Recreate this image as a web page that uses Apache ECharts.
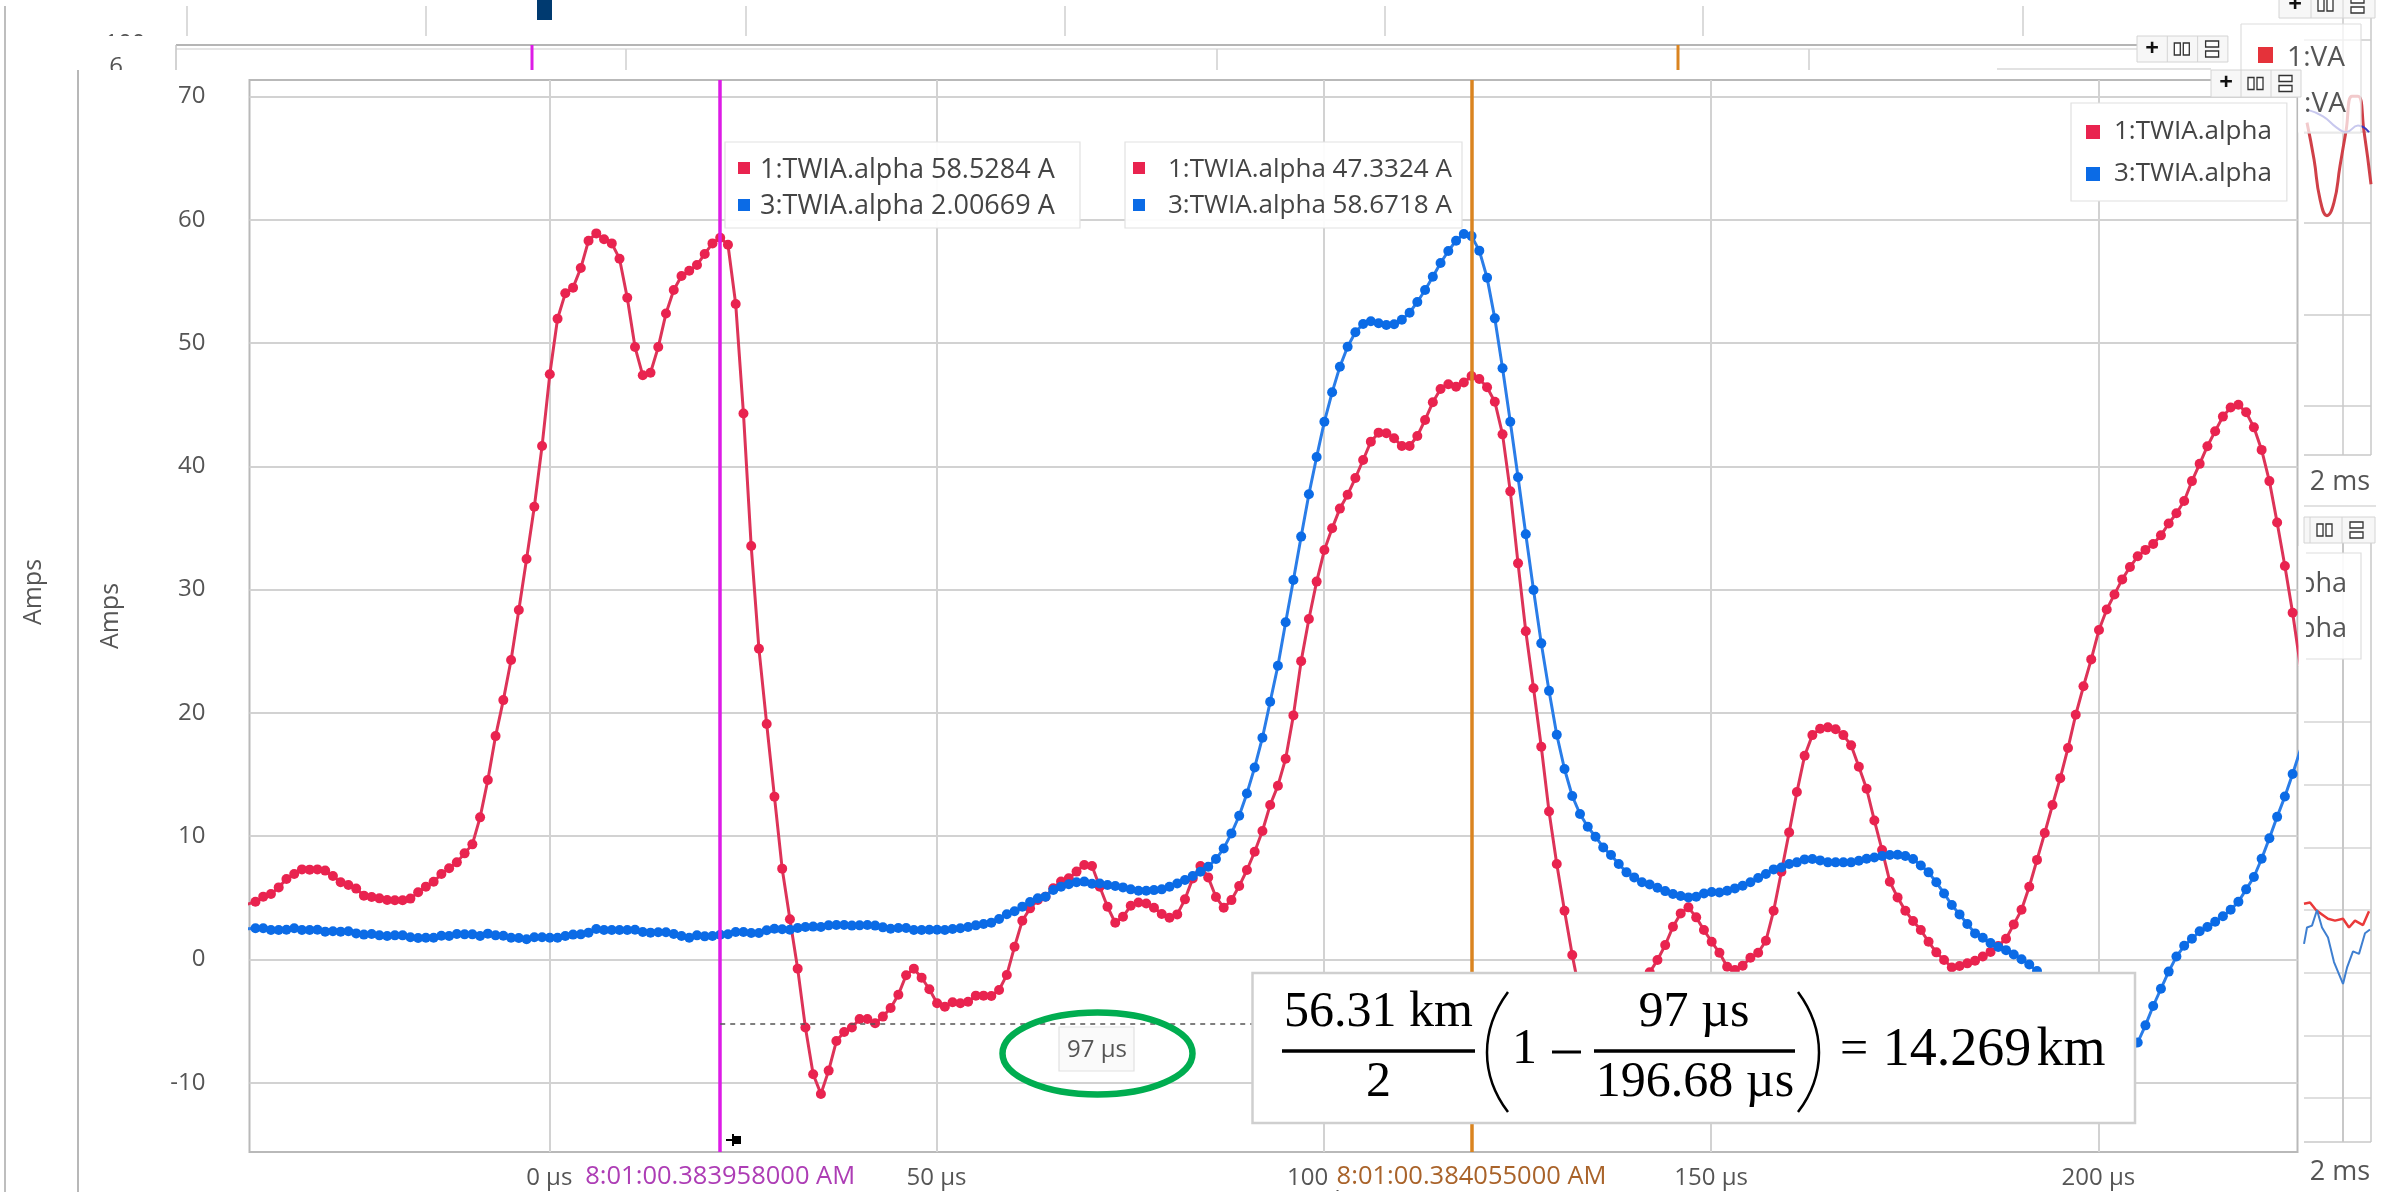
<!DOCTYPE html>
<html>
<head>
<meta charset="utf-8">
<style>html,body{margin:0;padding:0;background:#fff}#c{width:2394px;height:1192px}</style>
<script src="https://cdn.jsdelivr.net/npm/echarts@6/dist/echarts.min.js"></script>
</head>
<body>
<div id="c"></div>
<script>
// Sampled once per microsecond, first sample just left of the plot
const firstSampleUs = -38.93;
const seriesNames = ['1:TWIA.alpha', '3:TWIA.alpha'];
const xTicks = [0, 50, 100, 150, 200];
const yTicks = [-10, 0, 10, 20, 30, 40, 50, 60, 70];
const cursorA = 22.07;
const cursorB = 119.07;
const cursorLevel = -5.23;
const cursorALabel = '8:01:00.383958000 AM';
const cursorBLabel = '8:01:00.384055000 AM';

const red = [
4.5,4.69,5.10,5.31,5.85,6.53,6.94,7.31,7.29,7.31,
7.21,6.77,6.26,6.04,5.75,5.18,5.07,4.96,4.83,4.80,
4.80,4.94,5.45,5.91,6.31,6.94,7.40,7.88,8.61,9.34,
11.53,14.56,18.12,21.04,24.29,28.34,32.48,36.72,41.64,47.46,
51.97,54.03,54.49,56.08,58.30,58.89,58.41,58.08,56.84,53.67,
49.67,47.38,47.59,49.67,52.40,54.30,55.43,55.86,56.32,57.22,
58.08,58.53,57.97,53.16,44.29,33.53,25.2,19.10,13.21,7.37,
3.26,-0.74,-5.52,-9.31,-10.9,-9.01,-6.61,-5.88,-5.52,-4.82,
-4.82,-5.17,-4.63,-3.93,-2.85,-1.28,-0.74,-1.47,-2.41,-3.55,
-3.82,-3.47,-3.55,-3.42,-2.93,-2.93,-2.96,-2.47,-1.25,1.04,
3.15,4.15,4.83,5.10,5.78,6.32,6.59,7.13,7.67,7.59,
5.9,4.28,2.98,3.47,4.36,4.63,4.55,4.20,3.69,3.39,
3.66,4.88,6.58,7.58,6.66,5.07,4.20,4.82,5.96,7.26,
8.74,10.42,12.53,14.10,16.29,19.80,24.2,27.62,30.65,33.21,
34.97,36.57,37.70,39.05,40.51,42.0,42.73,42.68,42.27,41.65,
41.65,42.46,43.76,45.19,46.27,46.65,46.46,46.79,47.33,47.08,
46.41,45.24,42.59,37.97,32.13,26.62,22.0,17.26,12.01,7.74,
3.96,0.36,-2.8,-5.8,-8.0,-9.5,-10.2,-10.0,-8.5,-6.3,
-3.6,-1.04,-0.04,1.17,2.66,3.74,4.23,3.42,2.39,1.44,
0.55,-0.58,-0.85,-0.50,0.15,0.55,1.52,3.96,7.12,10.31,
13.58,16.53,18.2,18.72,18.83,18.67,18.2,17.37,15.64,13.85,
11.28,8.88,6.31,5.04,3.96,3.12,2.39,1.44,0.58,-0.04,
-0.64,-0.53,-0.31,-0.10,0.25,0.62,1.1,1.68,2.85,4.03,
5.90,8.08,10.26,12.53,14.71,17.15,19.85,22.16,24.34,26.73,
28.39,29.61,30.83,31.83,32.70,33.22,33.70,34.40,35.36,36.19,
37.19,38.80,40.20,41.63,42.85,44.03,44.77,44.99,44.38,43.16,
41.33,38.80,35.45,31.92,28.13,23.8
];
const blue = [
2.5,2.53,2.53,2.39,2.39,2.42,2.53,2.39,2.39,2.42,
2.26,2.29,2.26,2.29,2.12,2.02,2.07,1.96,1.91,1.96,
1.96,1.80,1.75,1.77,1.77,1.93,1.91,2.07,2.04,2.04,
1.91,2.10,1.96,1.93,1.77,1.75,1.64,1.80,1.80,1.77,
1.77,1.91,2.02,2.04,2.18,2.48,2.39,2.39,2.39,2.39,
2.42,2.23,2.18,2.21,2.21,2.07,1.91,1.77,1.96,1.88,
1.91,2.01,2.05,2.23,2.23,2.15,2.15,2.37,2.50,2.45,
2.42,2.56,2.64,2.67,2.64,2.77,2.80,2.80,2.75,2.77,
2.80,2.75,2.61,2.50,2.56,2.56,2.40,2.40,2.42,2.42,
2.40,2.48,2.53,2.64,2.77,2.88,2.99,3.29,3.67,3.91,
4.29,4.67,4.96,5.10,5.64,5.91,6.10,6.26,6.32,6.15,
6.17,6.04,5.96,5.85,5.69,5.58,5.58,5.63,5.69,5.90,
6.17,6.45,6.77,7.12,7.53,8.15,9.01,10.23,11.66,13.47,
15.58,17.99,20.9,23.83,27.35,30.78,34.30,37.73,40.76,43.62,
46.0,48.08,49.70,50.87,51.54,51.76,51.60,51.46,51.52,51.89,
52.46,53.33,54.30,55.38,56.49,57.46,58.30,58.84,58.67,57.49,
55.30,52.0,47.95,43.62,39.11,34.49,29.97,25.64,21.79,18.23,
15.45,13.26,11.80,10.77,9.96,9.09,8.47,7.74,7.07,6.66,
6.26,6.09,5.82,5.55,5.31,5.15,5.04,5.09,5.36,5.47,
5.44,5.58,5.77,5.99,6.26,6.61,6.93,7.31,7.47,7.74,
7.88,8.12,8.15,8.04,7.88,7.88,7.88,7.88,8.01,8.18,
8.28,8.39,8.47,8.50,8.39,8.15,7.63,7.07,6.26,5.36,
4.42,3.66,2.88,2.12,1.76,1.33,1.02,0.76,0.41,0.02,
-0.41,-0.94,-1.5,-2.2,-3.0,-3.8,-4.7,-5.6,-6.5,-7.4,
-8.0,-8.4,-8.4,-7.8,-6.73,-5.34,-3.77,-2.37,-0.98,0.24,
1.11,1.68,2.29,2.64,3.07,3.51,4.03,4.68,5.69,6.69,
8.17,9.83,11.57,13.22,15.05,17.0
];

// Neighbouring panels, clipped by the main chart
const vaTimes = [3, 10, 16, 23, 30, 36, 42, 48, 54, 60, 67];
const vaRed = [9.7, -30.4, -73.9, -92, -77.5, -37.7, 0.3, 38.4, 38.4, 0.3, -57.6];
const vaBlueTimes = [3, 19, 33, 42, 54, 65];
const vaBlue = [23.9, 16.6, 4, -0.7, 6.5, -0.7];
const sideRedTimes = [0, 6, 12, 18, 24, 31, 39, 45, 51, 59, 65];
const sideRed = [1.0, 1.2, 0, -0.7, -1.4, -1.7, -1.4, -2.8, -1.7, -2.4, -0.2];
const sideBlueTimes = [0, 3, 8, 13, 18, 24, 30, 39, 43, 49, 55, 61, 66];
const sideBlue = [-5.4, -2.8, -2.5, 0, -2.8, -4.4, -8.3, -11.8, -9.2, -6.6, -7, -3.7, -3.1];

const RED = '#e9234f', BLUE = '#0b6be6', MAG = '#dd1ce6', ORA = '#da8420';
const GRID = '#d2d2d2', FRAME = '#b9b9b9', TXT = '#555555';
const FONT = '"Open Sans", "Noto Sans", sans-serif';
const SERIF = '"Liberation Serif", serif';

const pairs = (arr) => arr.map((v, i) => [firstSampleUs + i, v]);
const zip = (a, b) => a.map((v, i) => [v, b[i]]);

const g = [];
function line(x1, y1, x2, y2, color, w, z, dash) {
  g.push({type: 'line', z: z || 100, silent: true, shape: {x1, y1, x2, y2},
    style: {stroke: color, lineWidth: w || 2, lineDash: dash}});
}
function box(x, y, w, h, fill, stroke, lw, z) {
  g.push({type: 'rect', z: z || 100, silent: true, shape: {x, y, width: w, height: h},
    style: {fill, stroke: stroke || null, lineWidth: lw === undefined ? 1 : lw}});
}
function text(t, x, y, size, color, align, font, z, rot, weight) {
  g.push({type: 'text', z: z || 100, silent: true, x, y, rotation: rot || 0,
    style: {text: t, fill: color || TXT, fontSize: size, fontFamily: font || FONT,
      fontWeight: weight || 'normal', align: align || 'center', verticalAlign: 'middle'}});
}
function icons(x, cw, y, h) {
  const cy = y + h / 2;
  box(x + 7, cy - 6, 6, 12, '#fff', '#333', 1.3);
  box(x + 16, cy - 6, 6, 12, '#fff', '#333', 1.3);
  box(x + cw + 8, cy - 8, 13, 6, '#fff', '#333', 1.3);
  box(x + cw + 8, cy + 2, 13, 6, '#fff', '#333', 1.3);
}
function toolbar(x, y, cw, h) {
  box(x, y, cw * 3, h, '#f7f7f7', '#d4d4d4', 1);
  line(x + cw, y, x + cw, y + h, '#d4d4d4', 1);
  line(x + 2 * cw, y, x + 2 * cw, y + h, '#d4d4d4', 1);
  text('+', x + cw / 2, y + h / 2, 24, '#111', 'center', FONT, 100, 0, 'bold');
  icons(x + cw, cw, y, h);
}

// --- panels behind the main chart ---
line(5, 6, 5, 1192, '#a8a8a8', 1.5);
[187, 426, 746, 1065, 1385, 1703, 2023].forEach(x => line(x, 6, x, 36, '#cfcfcf', 1.5));
box(537, 0, 15, 20, '#003a70', null, 0);
text('100', 125, 44, 24);
box(90, 36, 60, 22, '#fff', null, 0);
line(176, 45, 2137, 45, '#b5b5b5', 2);
line(176, 49, 2137, 49, '#dcdcdc', 1.5);
line(176, 45, 176, 70, '#c4c4c4', 1.5);
[626, 1217, 1809].forEach(x => line(x, 49, x, 70, '#cfcfcf', 1.5));
line(532, 45, 532, 70, MAG, 3);
line(1678, 45, 1678, 70, ORA, 3);
text('6', 116, 67, 24);
box(80, 70, 90, 10, '#fff', null, 0);
line(78, 70, 78, 1192, '#a0a0a0', 1.5);
text('Amps', 34, 592, 25, TXT, 'center', FONT, 100, Math.PI / 2);
line(1997, 69, 2211, 69, '#d8d8d8', 1.5);

// --- top right panel ---
line(2343, 0, 2343, 455, '#c8c8c8', 1.5, 1);
line(2371, 0, 2371, 455, '#c8c8c8', 1.5, 1);
line(2304, 455, 2371, 455, '#c8c8c8', 1.5, 1);
box(2241, 24, 120, 46, 'rgba(255,255,255,0.72)', null, 0, 2);
box(2298, 70, 63, 63, 'rgba(255,255,255,0.72)', null, 0, 2);
line(2241, 24, 2361, 24, '#dedede', 1.2, 3);
line(2241, 24, 2241, 70, '#dedede', 1.2, 3);
line(2361, 24, 2361, 133, '#dedede', 1.2, 3);
line(2298, 133, 2361, 133, '#dedede', 1.2, 3);
toolbar(2279, -8, 32, 26);
box(2258, 47, 15, 16, '#e5323a', null, 0);
text('1:VA', 2316, 58, 28);
text(':VA', 2325, 104, 28);
box(2298.5, 70, 5.5, 90, '#fff', null, 0);
toolbar(2137, 36, 30.3, 26);
toolbar(2211, 70, 30, 27);
text('2 ms', 2340, 482, 27);

// --- lower right panel ---
line(2304, 506, 2376, 506, '#d8d8d8', 1.5);
box(2304, 517, 71, 26, '#f7f7f7', '#d4d4d4', 1);
line(2310, 517, 2310, 543, '#d4d4d4', 1);
line(2342, 517, 2342, 543, '#d4d4d4', 1);
icons(2310, 32, 517, 26);
line(2343, 543, 2343, 1142, '#c8c8c8', 2, 1);
line(2371, 543, 2371, 1142, '#c8c8c8', 1.5, 1);
line(2304, 1142, 2371, 1142, '#c8c8c8', 1.5, 1);
box(2304, 553, 57, 106, 'rgba(255,255,255,0.9)', '#dedede', 1.2, 2);
text('pha', 2347, 584, 27, TXT, 'right', FONT, 3);
text('pha', 2347, 629, 27, TXT, 'right', FONT, 3);
box(2298.5, 546, 7.5, 120, '#fff', null, 0, 4);
text('2 ms', 2340, 1172, 27);

// --- main chart annotations ---
box(1059, 1027, 75, 44, '#fafafa', '#e2e2e2', 1.2);
text('97 µs', 1097, 1050, 24);
g.push({type: 'ellipse', z: 100, silent: true, shape: {cx: 1097.5, cy: 1053.5, rx: 95, ry: 41},
  style: {fill: null, stroke: '#00ad50', lineWidth: 6.5}});
box(725, 142, 355, 86, 'rgba(255,255,255,0.92)', '#e2e2e2', 1.2, 3);
box(738, 162, 12, 12, RED, null, 0, 6);
box(738, 199, 12, 12, BLUE, null, 0, 6);
text('1:TWIA.alpha 58.5284 A', 760, 170, 27, '#444', 'left', FONT, 6);
text('3:TWIA.alpha 2.00669 A', 760, 206, 27, '#444', 'left', FONT, 6);
box(1125, 142, 337, 86, 'rgba(255,255,255,0.92)', '#e2e2e2', 1.2, 3);
box(1133, 162, 12, 12, RED, null, 0, 6);
box(1133, 199, 12, 12, BLUE, null, 0, 6);
text('1:TWIA.alpha 47.3324 A', 1168, 170, 26, '#444', 'left', FONT, 6);
text('3:TWIA.alpha 58.6718 A', 1168, 206, 26, '#444', 'left', FONT, 6);
// pin marker on the first cursor
box(733, 1136, 8, 8, '#000', null, 0, 100);
line(726, 1140, 734, 1140, '#000', 2);
line(733, 1134, 733, 1146, '#000', 2);

// --- equation box ---
box(1252.5, 973, 882.5, 150, '#fff', '#cfcfcf', 2.5, 100);
const E = 101;
function eq(t, x, y, size, align) { text(t, x, y, size || 50, '#000', align || 'center', SERIF, E); }
eq('56.31 km', 1378.5, 1013);
line(1282, 1051, 1475, 1051, '#000', 3.5, E);
eq('2', 1378.5, 1083);
g.push({type: 'bezierCurve', z: E, silent: true,
  shape: {x1: 1508, y1: 992, cpx1: 1480, cpy1: 1030, cpx2: 1480, cpy2: 1075, x2: 1508, y2: 1112},
  style: {stroke: '#000', lineWidth: 2.5, fill: null}});
eq('1', 1524.5, 1050);
line(1552, 1052, 1581, 1052, '#000', 3, E);
eq('97 µs', 1694, 1013);
line(1594, 1051, 1795, 1051, '#000', 3.5, E);
eq('196.68 µs', 1695, 1083);
g.push({type: 'bezierCurve', z: E, silent: true,
  shape: {x1: 1798, y1: 992, cpx1: 1826, cpy1: 1030, cpx2: 1826, cpy2: 1075, x2: 1798, y2: 1112},
  style: {stroke: '#000', lineWidth: 2.5, fill: null}});
eq('=', 1854, 1051);
eq('14.269', 1957, 1051, 54);
eq('km', 2071, 1051, 54);

const cursorLabel = (txt, color) => ({
  show: true, position: 'start', distance: 12, formatter: txt, color, fontSize: 25.5,
  fontFamily: FONT, backgroundColor: '#fff', padding: [0, 4, 0, 4]
});

const option = {
  backgroundColor: '#ffffff',
  animation: false,
  legend: {
    data: seriesNames, orient: 'vertical', left: 2071, top: 103,
    icon: 'rect', itemWidth: 14, itemHeight: 14, itemGap: 16,
    padding: [16, 15, 14, 15], backgroundColor: '#fff', borderColor: '#e0e0e0', borderWidth: 1.2,
    textStyle: {fontFamily: FONT, fontSize: 26, color: '#444', padding: [0, 0, 0, 9]}, selectedMode: false, z: 6
  },
  grid: [
    {left: 249.5, top: 80, width: 2048, height: 1072, show: true, borderColor: FRAME, borderWidth: 2, backgroundColor: '#fff', z: 0},
    {left: 2304, top: 40, width: 67, height: 366},
    {left: 2304, top: 722, width: 67, height: 376}
  ],
  xAxis: [
    {type: 'value', gridIndex: 0, min: -38.7, max: 225.7,
      axisLine: {show: false}, axisTick: {show: false, customValues: xTicks},
      axisLabel: {customValues: xTicks, formatter: (v) => v + ' µs', color: TXT, fontFamily: FONT, fontSize: 24, margin: 14},
      splitLine: {show: true, lineStyle: {color: GRID, width: 2}}},
    {type: 'value', gridIndex: 1, min: 0, max: 67, show: false, splitLine: {show: false}},
    {type: 'value', gridIndex: 2, min: 0, max: 67, show: false, splitLine: {show: false}}
  ],
  yAxis: [
    {type: 'value', gridIndex: 0, min: -15.61, max: 71.33,
      name: 'Amps', nameLocation: 'middle', nameGap: 126, nameRotate: 90,
      nameTextStyle: {color: TXT, fontFamily: FONT, fontSize: 25},
      axisLine: {show: false}, axisTick: {show: false, customValues: yTicks},
      axisLabel: {customValues: yTicks, color: TXT, fontFamily: FONT, fontSize: 24, margin: 44, padding: [5, 0, 0, 0]},
      splitLine: {show: true, lineStyle: {color: GRID, width: 2}}},
    {type: 'value', gridIndex: 1, min: -300, max: 100, interval: 100,
      axisLine: {show: false}, axisTick: {show: false}, axisLabel: {show: false},
      splitLine: {show: true, lineStyle: {color: '#cccccc', width: 1.5}}},
    {type: 'value', gridIndex: 2, min: -30, max: 30, interval: 10,
      axisLine: {show: false}, axisTick: {show: false}, axisLabel: {show: false},
      splitLine: {show: true, lineStyle: {color: '#d4d4d4', width: 1.5}}}
  ],
  series: [
    {name: seriesNames[0], type: 'line', data: pairs(red), xAxisIndex: 0, yAxisIndex: 0,
      symbol: 'circle', symbolSize: 10, showAllSymbol: true, clip: true, z: 3,
      itemStyle: {color: RED}, lineStyle: {color: '#dd3358', width: 3},
      markLine: {
        silent: true, symbol: 'none', animation: false, z: 5,
        data: [
          {xAxis: cursorA, lineStyle: {color: MAG, width: 3.5, type: 'solid'}, label: cursorLabel(cursorALabel, '#ad3db5')},
          {xAxis: cursorB, lineStyle: {color: ORA, width: 3.5, type: 'solid'}, label: cursorLabel(cursorBLabel, '#a9632a')},
          [{coord: [cursorA, cursorLevel], lineStyle: {color: '#555', width: 1.5, type: [5, 5]}, label: {show: false}},
           {coord: [cursorB, cursorLevel]}]
        ]
      }},
    {name: seriesNames[1], type: 'line', data: pairs(blue), xAxisIndex: 0, yAxisIndex: 0,
      symbol: 'circle', symbolSize: 10, showAllSymbol: true, clip: true, z: 4,
      itemStyle: {color: BLUE}, lineStyle: {color: '#2a7de8', width: 3}},
    {type: 'line', xAxisIndex: 1, yAxisIndex: 1, data: zip(vaTimes, vaRed), smooth: true, symbol: 'none',
      lineStyle: {color: '#d04048', width: 3}, z: 1},
    {type: 'line', xAxisIndex: 1, yAxisIndex: 1, data: zip(vaBlueTimes, vaBlue), smooth: true, symbol: 'none',
      lineStyle: {color: '#3a3ac0', width: 2}, z: 1},
    {type: 'line', xAxisIndex: 2, yAxisIndex: 2, data: zip(sideRedTimes, sideRed), symbol: 'none',
      lineStyle: {color: '#ea3a3a', width: 2.5}, z: 2},
    {type: 'line', xAxisIndex: 2, yAxisIndex: 2, data: zip(sideBlueTimes, sideBlue), symbol: 'none',
      lineStyle: {color: '#3f7fd0', width: 2}, z: 2}
  ],
  graphic: {elements: g}
};
echarts.init(document.getElementById('c'), null, {renderer: 'canvas'}).setOption(option);
</script>
</body>
</html>
